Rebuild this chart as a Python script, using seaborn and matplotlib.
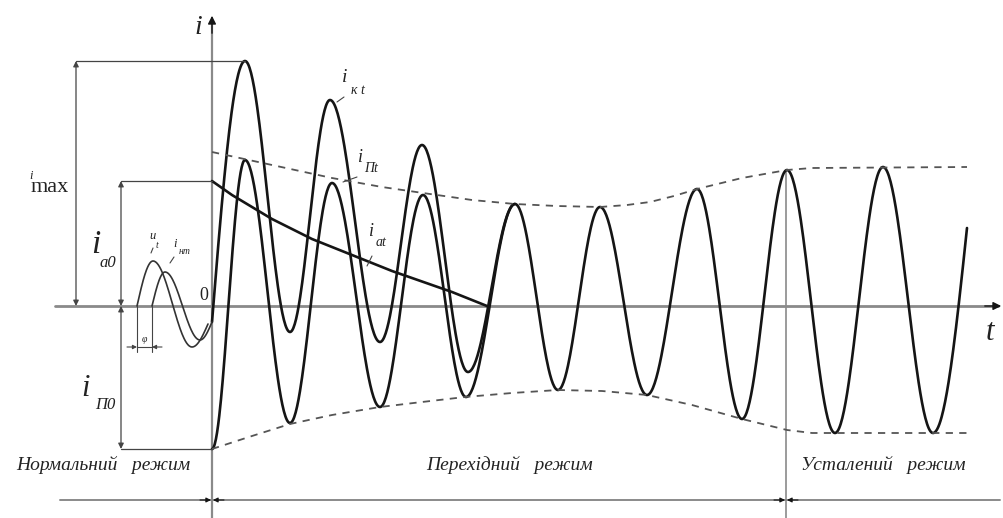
import numpy as np
import pandas as pd
import matplotlib
matplotlib.use('Agg')
import matplotlib.pyplot as plt
import seaborn as sns

# short circuit current (time and current in arbitrary units)
# periodic component i_Пt - extrema (start, peaks, troughs, end)
t_pt = [0, 33, 78, 120, 168, 211, 254, 303, 346, 388, 435, 485, 530, 575, 623, 671, 721, 755]
i_pt = [-143, 146, -117, 123, -101, 111, -91, 102, -84, 99, -89, 117, -113, 136, -127, 139, -127, 78]

# total current i_кt until it joins the periodic component
t_kt = [0, 33, 78, 118, 168, 210, 256, 303]
i_kt = [-16, 245, -26, 206, -36, 161, -66, 102]

# aperiodic component i_at
t_at = [0, 20, 40, 60, 80, 100, 120, 140, 160, 180, 200, 220, 240, 260, 275]
i_at = [125, 111, 99, 87, 77, 67, 59, 51, 43, 35, 28, 21, 14, 6, 0]

# envelopes of the periodic component (dashed)
t_up = [0, 60, 120, 170, 211, 260, 303, 345, 388, 415, 438, 462, 485, 530, 575, 600, 755]
i_up = [154, 141, 128, 119, 113, 106, 102, 100, 99, 101, 104, 110, 117, 128, 136, 138, 139]
t_lo = [0, 40, 78, 120, 168, 210, 253, 300, 346, 390, 435, 480, 530, 575, 600, 760]
i_lo = [-143, -130, -118, -109, -101, -96, -91, -87, -84, -85, -89, -99, -113, -124, -127, -127]

# normal mode: voltage u_t and current i_нт
t_u = [-75, -59, -20, -4]
u_n = [0, 45, -41, -18]
t_in = [-60, -47, -12, 0]
i_n = [0, 34, -34, -16]

t_steady = 574   # start of steady mode

i_max = max(i_kt)
t_max = t_kt[i_kt.index(i_max)]
i_a0 = i_at[0]
i_p0 = i_pt[0]


def wave(ts, vs, first='half', last='half', n=60):
    # joins the extrema with half cosine pieces
    tt, vv = [], []
    for k in range(len(ts) - 1):
        s = np.linspace(0, 1, n)
        if k == 0 and first == 'rise':
            w = np.sin(np.pi / 2 * s)
        elif k == len(ts) - 2 and last == 'end':
            w = 1 - np.cos(np.pi / 2 * s)
        else:
            w = (1 - np.cos(np.pi * s)) / 2
        tt.extend(ts[k] + (ts[k + 1] - ts[k]) * s)
        vv.extend(vs[k] + (vs[k + 1] - vs[k]) * w)
    return pd.DataFrame({'t': tt, 'i': vv})


sns.set_style('white')
plt.rcParams['font.family'] = ['Liberation Serif', 'DejaVu Serif']

fig = plt.figure(figsize=(10.04, 5.18), dpi=100)
ax = fig.add_axes([0, 0, 1, 1])

ink = '#151515'
grey = '#8a8a8a'
thin = '#444444'

# axes
ax.plot([-157, 786], [0, 0], color=grey, lw=2, zorder=1)
ax.plot([0, 0], [-212, 285], color=grey, lw=1.6, zorder=1)
ax.annotate('', xy=(792, 0), xytext=(770, 0),
            arrowprops=dict(arrowstyle='-|>', color=ink, lw=1, mutation_scale=12))
ax.annotate('', xy=(0, 293), xytext=(0, 270),
            arrowprops=dict(arrowstyle='-|>', color=ink, lw=1, mutation_scale=12))
ax.plot([t_steady, t_steady], [-212, i_up[-3]], color=grey, lw=1.2, zorder=1)

# curves
kw = dict(ax=ax, x='t', y='i', estimator=None, sort=False, color=ink, lw=1.9)
sns.lineplot(data=wave(t_pt, i_pt, last='end'), **kw)
sns.lineplot(data=wave(t_kt, i_kt, first='rise'), **kw)
sns.lineplot(data=pd.DataFrame({'t': t_at, 'i': i_at}), **kw)
sns.lineplot(data=wave(t_u, u_n, first='rise', last='end'), ax=ax, x='t', y='i',
             estimator=None, sort=False, color='#333', lw=1.2)
sns.lineplot(data=wave(t_in, i_n, first='rise', last='end'), ax=ax, x='t', y='i',
             estimator=None, sort=False, color='#333', lw=1.2)

dkw = dict(ax=ax, x='t', y='i', estimator=None, sort=False, color='#555', lw=1.3,
           linestyle=(0, (4, 3.5)))
sns.lineplot(data=pd.DataFrame({'t': t_up, 'i': i_up}), **dkw)
sns.lineplot(data=pd.DataFrame({'t': t_lo, 'i': i_lo}), **dkw)

# dimension lines
akw = dict(arrowstyle='<|-|>', color=thin, lw=0.9, mutation_scale=8, shrinkA=0, shrinkB=0)
ax.plot([-136, t_max], [i_max, i_max], color=thin, lw=0.9)
ax.annotate('', xy=(-136, i_max), xytext=(-136, 0), arrowprops=akw)
ax.plot([-91, 0], [i_a0, i_a0], color=thin, lw=0.9)
ax.annotate('', xy=(-91, i_a0), xytext=(-91, 0), arrowprops=akw)
ax.plot([-91, 0], [i_p0, i_p0], color=thin, lw=0.9)
ax.annotate('', xy=(-91, i_p0), xytext=(-91, 0), arrowprops=akw)

# phase shift phi
ax.plot([t_u[0], t_u[0]], [0, -46], color=thin, lw=0.8)
ax.plot([t_in[0], t_in[0]], [0, -46], color=thin, lw=0.8)
hkw = dict(arrowstyle='-|>', color=thin, lw=0.8, mutation_scale=6, shrinkA=0, shrinkB=0)
ax.annotate('', xy=(t_u[0], -41), xytext=(t_u[0] - 10, -41), arrowprops=hkw)
ax.annotate('', xy=(t_in[0], -41), xytext=(t_in[0] + 10, -41), arrowprops=hkw)
ax.plot([t_u[0], t_in[0]], [-41, -41], color=thin, lw=0.8)

# mode bar at the bottom
ax.plot([-152, 788], [-194, -194], color=grey, lw=1.4)
bkw = dict(arrowstyle='-|>', color=ink, lw=0.8, mutation_scale=7, shrinkA=0, shrinkB=0)
for tb in [0, t_steady]:
    ax.annotate('', xy=(tb - 1, -194), xytext=(tb - 12, -194), arrowprops=bkw)
    ax.annotate('', xy=(tb + 1, -194), xytext=(tb + 12, -194), arrowprops=bkw)

# texts
tc = '#222222'
it = dict(color=tc, style='italic', ha='center', va='center')
ax.text(-14, 278, 'i', fontsize=20, **it)
ax.text(778, -27, 't', fontsize=22, **it)
ax.text(-8, 10, '0', fontsize=13, color=tc, ha='center', va='center')

ax.text(-181, 130, 'i', fontsize=9, **it)
ax.text(-162, 118, 'max', fontsize=16, color=tc, ha='center', va='center')
ax.text(-116, 61, 'i', fontsize=24, **it)
ax.text(-104, 43, 'a0', fontsize=12, **it)
ax.text(-126, -82, 'i', fontsize=22, **it)
ax.text(-107, -99, 'П0', fontsize=12, **it)

ax.text(-59, 70, 'u', fontsize=9, **it)
ax.text(-55, 61, 't', fontsize=7, **it)
ax.text(-37, 62, 'i', fontsize=9, **it)
ax.text(-27, 54, 'нт', fontsize=7, **it)
ax.text(-68, -34, 'φ', fontsize=7, **it)

ax.text(133, 229, 'i', fontsize=14, **it)
ax.text(146, 215, 'к t', fontsize=10, **it)
ax.text(149, 149, 'i', fontsize=13, **it)
ax.text(159, 138, 'Пt', fontsize=10, **it)
ax.text(160, 75, 'i', fontsize=13, **it)
ax.text(169, 64, 'at', fontsize=10, **it)

# little leaders to the curves
for (x0, y0, x1, y1) in [(125, 204, 132, 209), (131, 124, 145, 129), (155, 40, 160, 50),
                         (-61, 53, -59, 58), (-42, 43, -38, 49)]:
    ax.plot([x0, x1], [y0, y1], color=thin, lw=0.8)

ax.text(-109, -159, 'Нормальний   режим', fontsize=14, **it)
ax.text(298, -159, 'Перехідний   режим', fontsize=14, **it)
ax.text(671, -159, 'Усталений   режим', fontsize=14, **it)

ax.set_xlim(-212, 792)
ax.set_ylim(-212, 306)
ax.axis('off')

plt.savefig('out.png', dpi=100)
